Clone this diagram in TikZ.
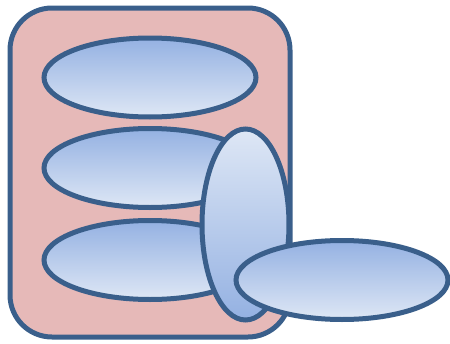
\documentclass[tikz,border=0pt]{standalone}
\usepackage{tikz}
\usetikzlibrary{
  shapes.geometric,
  positioning
}
\usepackage{xcolor}
\definecolor{rim}{RGB}{58,95,139}
\definecolor{pod}{RGB}{230,185,184}
\definecolor{deep}{RGB}{148,177,226}
\definecolor{pale}{RGB}{222,231,245}

\begin{document}
\begin{tikzpicture}[
  x=1pt, y=-1pt,
  holder/.style={draw=rim, line width=5pt, rounded corners=42pt, fill=pod,
                 minimum width=280pt, minimum height=329pt, inner sep=0pt},
  flat/.style={ellipse, draw=rim, line width=5pt, top color=deep, bottom color=pale,
               minimum width=212pt, minimum height=79pt, inner sep=0pt},
  tall/.style={ellipse, draw=rim, line width=5pt, top color=pale, bottom color=deep,
               minimum width=87pt, minimum height=191pt, inner sep=0pt}
]
\useasboundingbox (0,0) rectangle (450,343);

% ── Container ──
\node[holder] (box) at (150, 172.5) {};

% ── Stacked items ──
\node[flat] (top) at (150, 77.5) {};
\node[flat] (mid) at (150, 168) {};
\node[flat] (low) at (150, 260) {};

% ── Upright item ──
\node[tall] (up) at (245.5, 224.5) {};

% ── Outside item ──
\node[flat] (out) at (342, 280) {};

\end{tikzpicture}
\end{document}
